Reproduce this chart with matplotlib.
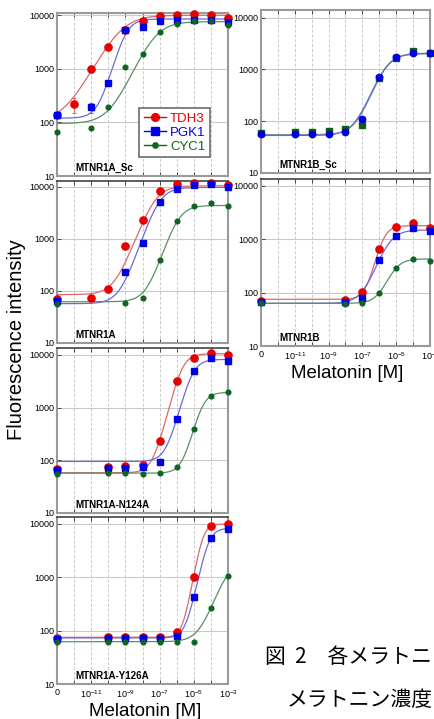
import numpy as np
import matplotlib.pyplot as plt
from matplotlib.lines import Line2D

plt.rcParams['font.family'] = ['Liberation Sans', 'DejaVu Sans']
plt.rcParams['mathtext.default'] = 'regular'

nan = np.nan

# --- data (fluorescence, a.u.) ---
# melatonin concentration [M]; the 0 M sample sits in the 1e-13 slot
conc_a_sc = [0, 1e-12, 1e-11, 1e-10, 1e-9, 1e-8, 1e-7, 1e-6, 1e-5, 1e-4, 1e-3]
a_sc_tdh3 = [140, 220, 1000, 2600, 5300, 7800, 9600, 10300, 10400, 10300, 9000]
a_sc_pgk1 = [140, nan, 190, 540, 5200, 6100, 7700, 8100, 8300, 8300, 7500]
a_sc_cyc1 = [66, nan, 79, 190, 1100, 1850, 4800, 6950, 7800, 7700, 6700]
# a few visible error bars (± a.u.) in the first panel
a_sc_tdh3_err = [0, 70, 110, 0, 0, 0, 0, 0, 0, 0, 0]
a_sc_pgk1_err = [0, 0, 40, 0, 0, 0, 0, 0, 0, 0, 0]

conc_a = [0, 1e-11, 1e-10, 1e-9, 1e-8, 1e-7, 1e-6, 1e-5, 1e-4, 1e-3]
a_tdh3 = [71, 72, 110, 720, 2350, 8200, 11400, 12000, 12000, 10800]
a_pgk1 = [64, nan, nan, 230, 820, 5200, 9300, 10800, 11400, 10000]
a_cyc1 = [57, nan, nan, 59, 74, 390, 2200, 4260, 4950, 4260]

conc_n124a = [0, 1e-10, 1e-9, 1e-8, 1e-7, 1e-6, 1e-5, 1e-4, 1e-3]
n124a_tdh3 = [68, 74, 79, 82, 235, 3200, 8600, 11000, 10000]
n124a_pgk1 = [66, 72, 72, 75, 93, 600, 4900, 8600, 7600]
n124a_cyc1 = [54, 57, 57, 55, 57, 75, 390, 1650, 1950]

conc_y126a = [0, 1e-10, 1e-9, 1e-8, 1e-7, 1e-6, 1e-5, 1e-4, 1e-3]
y126a_tdh3 = [72, 75, 75, 75, 75, 93, 1000, 9000, 10000]
y126a_pgk1 = [71, 73, 73, 73, 73, 81, 420, 5370, 7900]
y126a_cyc1 = [62, 62, 62, 62, 62, 62, 62, 270, 1080]

conc_b_sc = [0, 1e-11, 1e-10, 1e-9, 1e-8, 1e-7, 1e-6, 1e-5, 1e-4, 1e-3]
b_sc_circle = [57, 57, 57, 57, 63, 112, 700, 1700, 2100, 2100]
b_sc_square = [60, 62, 62, 64, 70, 83, 690, 1640, 2240, 2040]

conc_b = [0, 1e-8, 1e-7, 1e-6, 1e-5, 1e-4, 1e-3]
b_tdh3 = [69, 72, 102, 650, 1730, 1990, 1650]
b_pgk1 = [67, 67, 79, 410, 1160, 1650, 1410]
b_cyc1 = [65, 61, 63, 100, 290, 430, 390]

# four-parameter logistic fits: bottom, top, log EC50, Hill slope
fit_a_sc_tdh3 = [100, 10000, -9.3, 0.62]
fit_a_sc_pgk1 = [120, 8500, -9.0, 1.2]
fit_a_sc_cyc1 = [95, 7600, -7.3, 0.74]
fit_a_tdh3 = [85, 10500, -7.3, 0.92]
fit_a_pgk1 = [57, 9800, -7.05, 1.0]
fit_a_cyc1 = [62, 4400, -5.95, 1.05]
fit_n124a_tdh3 = [58, 10500, -5.7, 1.35]
fit_n124a_pgk1 = [95, 8200, -5.1, 1.3]
fit_n124a_cyc1 = [57, 1950, -4.52, 1.4]
fit_y126a_tdh3 = [75, 10000, -4.5, 1.9]
fit_y126a_pgk1 = [73, 8300, -4.16, 1.6]
fit_y126a_cyc1 = [62, 2000, -3.08, 1.0]
fit_b_sc_circle = [53, 2050, -5.65, 0.92]
fit_b_sc_square = [55, 2000, -5.65, 0.95]
fit_b_tdh3 = [75, 1800, -5.8, 1.5]
fit_b_pgk1 = [63, 1500, -5.5, 1.0]
fit_b_cyc1 = [63, 430, -5.18, 1.16]

x_decades = [-13, -12, -11, -10, -9, -8, -7, -6, -5, -4, -3]
x_ticklabels = ['0', '', '$10^{-11}$', '', '$10^{-9}$', '', '$10^{-7}$', '',
                '$10^{-5}$', '', '$10^{-3}$']
y_ticks = [10, 100, 1000, 10000]
y_ticklabels = ['10', '100', '1000', '10000']

ZERO_AT = 1e-13

RED = dict(marker='o', color='#e80000', ms=5.2, curve='#d96a6a')
BLUE = dict(marker='s', color='#0000e8', ms=5.0, curve='#6a6ad9')
GREEN = dict(marker='o', color='#0f6420', ms=3.4, curve='#5a8f66')
BLUE_DOT = dict(marker='o', color='#0000e0', ms=4.6, curve='#5b6fc8')
GREEN_SQ = dict(marker='s', color='#0d5e14', ms=5.0, curve='#7f9a9a')

W, H = 435, 719


def hill(x_log, p):
    bottom, top, log_ec50, slope = p
    return bottom + (top - bottom) / (1 + 10 ** ((log_ec50 - x_log) * slope))


def make_axes(fig, left, right, top, bottom):
    return fig.add_axes([left / W, 1 - bottom / H, (right - left) / W, (bottom - top) / H])


def draw_panel(ax, conc, series, label, ytop, show_xlabels=False, dark_top=True, errors=None):
    xs = [c if c > 0 else ZERO_AT for c in conc]
    x_fit = np.linspace(-13, -3, 300)
    for values, fit, st in series:
        ax.plot(10 ** x_fit, hill(x_fit, fit), color=st['curve'], lw=0.9, zorder=3)
    if errors:
        for (values, fit, st), err in zip(series, errors):
            if err is None:
                continue
            ax.errorbar(xs, values, yerr=err, fmt='none', ecolor=st['curve'],
                        elinewidth=0.8, capsize=1.5, capthick=0.8, zorder=3.5)
    for values, fit, st in series:
        ax.plot(xs, values, ls='none', marker=st['marker'], ms=st['ms'],
                color=st['color'], mec=st['color'], zorder=4, clip_on=False)

    ax.set_xscale('log')
    ax.set_yscale('log')
    ax.set_xlim(1e-13, 1e-3)
    ax.set_ylim(10, ytop)
    ax.set_xticks([10.0 ** d for d in x_decades])
    ax.set_xticklabels(x_ticklabels if show_xlabels else [''] * len(x_decades))
    ax.set_yticks(y_ticks)
    ax.set_yticklabels(y_ticklabels)
    ax.minorticks_off()
    ax.tick_params(axis='both', direction='in', length=3, width=0.7, color='#444444',
                   labelsize=6.5, pad=2)
    ax.tick_params(axis='x', top=True, pad=3)

    ax.grid(True, axis='x', color='#c9c9c9', lw=0.7, ls=(0, (3, 2)))
    ax.grid(True, axis='y', color='#c9c9c9', lw=0.8)
    ax.set_axisbelow(True)

    for side in ['left', 'right', 'bottom', 'top']:
        ax.spines[side].set_color('#9a9a9a')
        ax.spines[side].set_linewidth(1.5)
    if dark_top:
        ax.spines['top'].set_color('#333333')
        ax.spines['top'].set_linewidth(1.1)

    ax.text(0.108, 0.05, label, transform=ax.transAxes, fontsize=7,
            fontweight='bold', va='center', ha='left')


fig = plt.figure(figsize=(W / 100, H / 100), dpi=100)

# --- left column: MTNR1A variants ---
ax1 = make_axes(fig, 57, 228, 13, 176)
draw_panel(ax1, conc_a_sc, [(a_sc_tdh3, fit_a_sc_tdh3, RED),
                            (a_sc_pgk1, fit_a_sc_pgk1, BLUE),
                            (a_sc_cyc1, fit_a_sc_cyc1, GREEN)],
           'MTNR1A_Sc', 11000, dark_top=False,
           errors=[a_sc_tdh3_err, a_sc_pgk1_err, None])

ax2 = make_axes(fig, 57, 228, 181, 343)
draw_panel(ax2, conc_a, [(a_tdh3, fit_a_tdh3, RED),
                         (a_pgk1, fit_a_pgk1, BLUE),
                         (a_cyc1, fit_a_cyc1, GREEN)],
           'MTNR1A', 13000)

ax3 = make_axes(fig, 57, 228, 348, 513)
draw_panel(ax3, conc_n124a, [(n124a_tdh3, fit_n124a_tdh3, RED),
                             (n124a_pgk1, fit_n124a_pgk1, BLUE),
                             (n124a_cyc1, fit_n124a_cyc1, GREEN)],
           'MTNR1A-N124A', 13500)

ax4 = make_axes(fig, 57, 228, 517, 684)
draw_panel(ax4, conc_y126a, [(y126a_tdh3, fit_y126a_tdh3, RED),
                             (y126a_pgk1, fit_y126a_pgk1, BLUE),
                             (y126a_cyc1, fit_y126a_cyc1, GREEN)],
           'MTNR1A-Y126A', 13500, show_xlabels=True)

# --- right column: MTNR1B ---
ax5 = make_axes(fig, 261, 430, 10, 173)
draw_panel(ax5, conc_b_sc, [(b_sc_square, fit_b_sc_square, GREEN_SQ),
                            (b_sc_circle, fit_b_sc_circle, BLUE_DOT)],
           'MTNR1B_Sc', 14000, dark_top=False)

ax6 = make_axes(fig, 261, 430, 179, 346)
draw_panel(ax6, conc_b, [(b_tdh3, fit_b_tdh3, RED),
                         (b_pgk1, fit_b_pgk1, BLUE),
                         (b_cyc1, fit_b_cyc1, GREEN)],
           'MTNR1B', 13500, show_xlabels=True)

# legend in the first panel
handles = [Line2D([], [], color=st['color'], marker=st['marker'], ms=st['ms'] + 0.4, lw=1.0)
           for st in (RED, BLUE, GREEN)]
leg = ax1.legend(handles, ['TDH3', 'PGK1', 'CYC1'], loc='upper left',
                 bbox_to_anchor=(0.48, 0.417), borderaxespad=0, fontsize=9.5,
                 handlelength=1.7, handletextpad=0.3, labelspacing=0.12,
                 borderpad=0.35, fancybox=False, framealpha=1)
leg.get_frame().set_edgecolor('#777777')
leg.get_frame().set_linewidth(1.3)
leg.set_zorder(10)
for txt, st in zip(leg.get_texts(), (RED, BLUE, GREEN)):
    txt.set_color(st['color'])

# axis titles
fig.text(17 / W, 1 - 340 / H, 'Fluorescence intensity', rotation=90,
         fontsize=14.5, ha='center', va='center')
fig.text(145 / W, 1 - 711 / H, 'Melatonin [M]', fontsize=13.5, ha='center', va='center')
fig.text(347 / W, 1 - 373 / H, 'Melatonin [M]', fontsize=13.5, ha='center', va='center')

# caption (cut off at the right edge in the source)
jp = ['Noto Sans CJK JP', 'DejaVu Sans']
fig.text(265 / W, 1 - 657 / H, '図  2\u3000各メラトニ', fontsize=15, family=jp,
         ha='left', va='center')
fig.text(287 / W, 1 - 700 / H, 'メラトニン濃度', fontsize=15, family=jp,
         ha='left', va='center')

fig.savefig('out.png', dpi=100)
